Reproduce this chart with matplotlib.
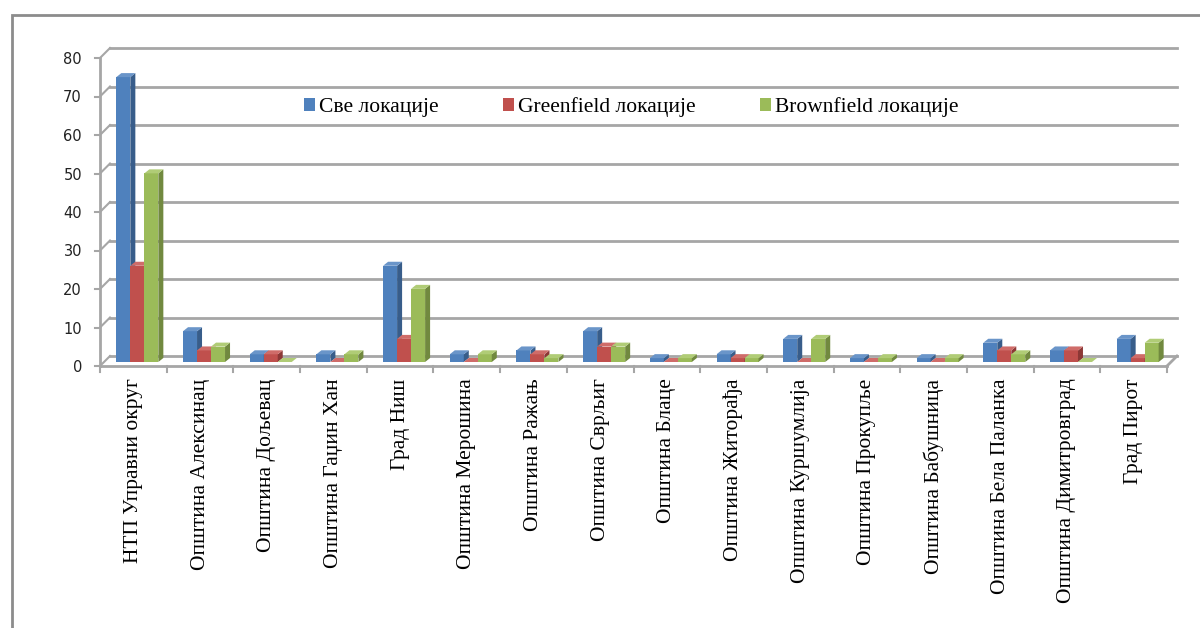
import matplotlib
matplotlib.use('Agg')
import matplotlib.pyplot as plt
from matplotlib.patches import Rectangle, Polygon
import numpy as np

# data
categories = ['НТП Управни округ', 'Општина Алексинац', 'Општина Дољевац', 'Општина Гаџин Хан',
              'Град Ниш', 'Општина Мерошина', 'Општина Ражањ', 'Општина Сврљиг',
              'Општина Блаце', 'Општина Житорађа', 'Општина Куршумлија', 'Општина Прокупље',
              'Општина Бабушница', 'Општина Бела Паланка', 'Општина Димитровград', 'Град Пирот']
sve = [74, 8, 2, 2, 25, 2, 3, 8, 1, 2, 6, 1, 1, 5, 3, 6]
greenfield = [25, 3, 2, 0, 6, 0, 2, 4, 0, 1, 0, 0, 0, 3, 3, 1]
brownfield = [49, 4, 0, 2, 19, 2, 1, 4, 1, 1, 6, 1, 1, 2, 0, 5]
series_names = ['Све локације', 'Greenfield локације', 'Brownfield локације']
yticks = [0, 10, 20, 30, 40, 50, 60, 70, 80]

front_colors = ['#4F81BD', '#C0504D', '#9BBB59']
side_colors = ['#385D8A', '#8C3836', '#71893F']
top_colors = ['#6A95C9', '#CF6C69', '#B0CC76']

W, H = 1200, 628
fig = plt.figure(figsize=(12, 6.28), dpi=100)

# outer frame (only left and top edges visible)
fig.patches.append(Rectangle((12 / W, -0.1), 1.2, (1 - 15 / H) + 0.1, transform=fig.transFigure,
                             fill=False, edgecolor='#8C8C8C', linewidth=2))

x0, x1 = 100, 1167
yb, yt = 366, 58
ax = fig.add_axes([x0 / W, (H - yb) / H, (x1 - x0) / W, (yb - yt) / H])
n = len(categories)
ax.set_xlim(-0.5, n - 0.5)
ax.set_ylim(0, 80)

# pixel -> data conversions
px_x = n / (x1 - x0)
px_y = 80 / (yb - yt)

grid_col = '#A6A6A6'
wall_dx, wall_dy = 10, 10   # back wall offset, pixels

# back-wall gridlines and the slanted left wall
for v in yticks:
    ax.plot([-0.5 + wall_dx * px_x, n - 0.5 + wall_dx * px_x], [v + wall_dy * px_y] * 2,
            color=grid_col, lw=2, clip_on=False, zorder=1)
    ax.plot([-0.5, -0.5 + wall_dx * px_x], [v, v + wall_dy * px_y],
            color=grid_col, lw=1.5, clip_on=False, zorder=1)
    ax.plot([-0.5 - 5 * px_x, -0.5], [v, v], color=grid_col, lw=1.5, clip_on=False, zorder=1)
ax.plot([-0.5, -0.5], [0, 80], color=grid_col, lw=2, clip_on=False, zorder=1)
# floor front edge + right end
ax.plot([-0.5, n - 0.5], [0, 0], color=grid_col, lw=2, clip_on=False, zorder=1)
ax.plot([n - 0.5, n - 0.5 + wall_dx * px_x], [0, wall_dy * px_y], color=grid_col, lw=2,
        clip_on=False, zorder=1)
for k in range(n + 1):
    ax.plot([k - 0.5, k - 0.5], [0, -6 * px_y], color=grid_col, lw=1.5, clip_on=False, zorder=1)

# 3D-looking bars
bw = 14 * px_x
ddx, ddy = 5 * px_x, 4 * px_y
base = 4 * px_y
shift = 4 * px_x
for s, vals in enumerate([sve, greenfield, brownfield]):
    for i, v in enumerate(vals):
        xl = i - 1.5 * bw + s * bw + shift
        yt_ = base + v
        z = 3 + i * 3 + s
        ax.add_patch(Rectangle((xl, base), bw, v, facecolor=front_colors[s], edgecolor='none', zorder=z))
        ax.add_patch(Polygon([(xl + bw, base), (xl + bw + ddx, base + ddy), (xl + bw + ddx, yt_ + ddy),
                              (xl + bw, yt_)], closed=True, facecolor=side_colors[s], edgecolor='none',
                             zorder=z))
        ax.add_patch(Polygon([(xl, yt_), (xl + ddx, yt_ + ddy), (xl + bw + ddx, yt_ + ddy), (xl + bw, yt_)],
                             closed=True, facecolor=top_colors[s], edgecolor='none', zorder=z))

for sp in ax.spines.values():
    sp.set_visible(False)
ax.set_yticks(yticks)
ax.set_yticklabels([str(v) for v in yticks], fontsize=10.5, color='#222222')
ax.tick_params(axis='y', length=0, pad=13)
ax.set_xticks(range(n))
ax.set_xticklabels(categories, rotation=90, fontsize=15.5, family='Liberation Serif',
                   va='top', ha='center')
ax.tick_params(axis='x', length=0, pad=9)

handles = [Rectangle((0, 0), 1, 1, facecolor=c, edgecolor='none') for c in front_colors]
ax.legend(handles, series_names, loc='center', bbox_to_anchor=(0.498, 0.84), ncol=3, frameon=False,
          prop={'family': 'Liberation Serif', 'size': 15.5}, handlelength=0.5, handleheight=0.5,
          handletextpad=0.2, columnspacing=3.0)

fig.savefig('out.png', dpi=100)
